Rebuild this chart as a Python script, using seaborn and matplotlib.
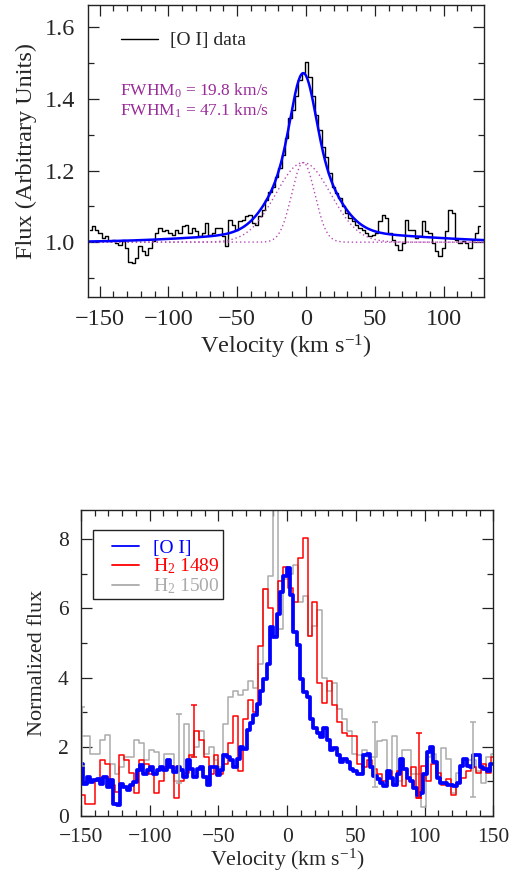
import numpy as np
import pandas as pd
import matplotlib
matplotlib.use("Agg")
import matplotlib.pyplot as plt
from matplotlib.ticker import MultipleLocator, FormatStrFormatter
from matplotlib.patches import Rectangle
import seaborn as sns

# ---------------- data: top panel ([O I] spectrum and 2-Gaussian fit) ----------------
oi_top_v = np.linspace(-156.9, 126.4, 118)
oi_top_flux = [
    1.034, 1.044, 1.034, 1.025, 1.011, 1.016, 1.002, 1.007, 0.997, 0.993,
    1.007, 0.983, 0.946, 0.941, 0.955, 0.988, 0.974, 0.965, 0.983, 1.002,
    1.025, 1.039, 1.030, 1.034, 1.025, 1.020, 1.034, 1.025, 1.044, 1.048,
    1.025, 1.039, 1.030, 1.016, 1.025, 1.053, 1.020, 1.025, 1.039, 1.039,
    1.016, 0.988, 1.062, 1.048, 1.034, 1.058, 1.062, 1.072, 1.076, 1.053,
    1.048, 1.072, 1.090, 1.118, 1.141, 1.155, 1.183, 1.207, 1.244, 1.290,
    1.346, 1.369, 1.407, 1.453, 1.472, 1.504, 1.462, 1.407, 1.355, 1.313,
    1.267, 1.239, 1.193, 1.155, 1.137, 1.123, 1.100, 1.081, 1.067, 1.058,
    1.048, 1.039, 1.034, 1.025, 1.016, 1.020, 1.025, 1.058, 1.076, 1.067,
    1.025, 1.007, 0.993, 0.979, 0.997, 1.062, 1.034, 1.034, 1.011, 1.016,
    1.058, 1.030, 1.025, 0.997, 0.974, 0.960, 0.983, 1.030, 1.090, 1.081,
    1.007, 0.997, 1.002, 0.997, 0.983, 1.007, 1.025, 1.044,
]
fit_center = -2.0
fwhm_narrow = 19.8
fwhm_broad = 47.1
amp_narrow = 0.222
amp_broad = 0.222
wing_amp = 0.028
wing_sigma = 70.0
wing_center = 5.0
continuum = 1.0
fwhm_labels = [r"FWHM$_0$ = 19.8 km/s", r"FWHM$_1$ = 47.1 km/s"]

# ---------------- data: bottom panel ----------------
oi_bot_v = np.linspace(-149.5, 148.8, 124)
oi_bot_flux = [
    1.51, 0.93, 1.12, 0.98, 1.02, 1.07, 0.93, 1.12, 0.83, 1.02,
    0.35, 0.30, 0.93, 0.83, 0.73, 0.88, 0.98, 1.31, 1.46, 1.22,
    1.31, 1.41, 1.22, 1.31, 1.41, 1.31, 1.60, 1.41, 1.27, 1.41,
    1.31, 1.12, 1.60, 1.36, 1.12, 1.36, 1.41, 1.12, 0.88, 1.41,
    1.41, 1.17, 1.31, 1.75, 1.70, 1.60, 1.41, 1.65, 1.99, 1.94,
    2.47, 2.67, 2.91, 3.24, 3.60, 3.95, 4.40, 5.47, 5.18, 5.85,
    6.48, 6.95, 7.16, 6.40, 5.32, 4.94, 3.97, 3.58, 3.45, 2.80,
    2.55, 2.40, 2.28, 2.55, 2.20, 1.90, 1.95, 1.75, 1.55, 1.65,
    1.55, 1.35, 1.30, 1.20, 1.20, 1.75, 1.80, 1.40, 1.15, 1.05,
    0.95, 0.85, 1.30, 1.10, 0.90, 1.20, 1.65, 1.35, 1.10, 1.00,
    0.80, 0.60, 0.65, 1.20, 1.85, 2.00, 1.55, 1.10, 0.95, 0.95,
    0.90, 0.90, 0.85, 0.95, 1.45, 1.65, 1.45, 1.40, 1.75, 1.75,
    1.40, 1.35, 1.30, 1.50,
]
h2_v = np.linspace(-149.0, 149.8, 84)
h2_1489 = [
    0.6, 0.35, 0.35, 1.0, 1.6, 1.5, 0.9, 0.7, 1.75, 1.6,
    1.25, 0.65, 1.6, 1.5, 1.2, 0.65, 1.0, 1.4, 1.45, 0.5,
    1.0, 1.25, 1.75, 2.45, 2.2, 1.7, 1.2, 1.75, 1.2, 1.5,
    2.1, 2.9, 1.3, 2.8, 3.35, 3.0, 4.9, 6.55, 6.0, 5.2,
    6.8, 7.2, 6.6, 6.2, 7.45, 8.05, 5.2, 6.2, 3.85, 3.25,
    3.9, 3.2, 2.7, 2.4, 2.3, 2.3, 1.5, 1.4, 1.6, 1.35,
    1.2, 1.0, 1.3, 0.9, 1.3, 0.85, 1.1, 1.4, 0.5, 1.45,
    1.0, 1.5, 1.25, 0.9, 1.05, 0.6, 0.95, 1.1, 1.3, 1.4,
    1.25, 1.5, 1.25, 1.7,
]
h2_1500 = [
    2.3, 2.3, 1.8, 1.8, 2.2, 2.35, 1.5, 1.2, 1.4, 1.7,
    1.7, 2.2, 2.1, 1.6, 1.9, 1.85, 1.4, 1.8, 1.8, 1.0,
    1.35, 2.65, 1.7, 2.0, 2.45, 1.8, 2.0, 1.6, 1.4, 2.65,
    3.45, 3.6, 3.5, 3.65, 3.9, 3.7, 4.4, 6.55, 6.95, 10.5,
    5.4, 6.85, 7.0, 7.25, 6.2, 6.35, 5.2, 5.5, 5.95, 4.0,
    3.6, 3.85, 3.1, 2.8, 2.45, 1.8, 1.75, 1.9, 1.7, 1.7,
    2.15, 2.2, 1.2, 2.3, 1.0, 1.9, 1.9, 1.2, 1.2, 0.25,
    1.7, 1.8, 1.15, 1.95, 1.65, 0.65, 1.25, 1.45, 1.6, 1.6,
    1.3, 0.95, 1.7, 1.8,
]
err_1489_v = [-67.5, 96.0]
err_1489_y = [2.45, 1.44]
err_1489_e = [0.75, 0.94]
err_1500_v = [-149.3, -79.0, 64.0, 135.5]
err_1500_y = [2.3, 1.95, 1.77, 1.62]
err_1500_e = [0.85, 1.0, 0.94, 1.08]
legend_labels = ["[O I]", r"H$_2$ 1489", r"H$_2$ 1500"]

# ---------------- style ----------------
sns.set_theme(style="ticks")
plt.rcParams["font.family"] = ["Liberation Serif", "DejaVu Serif"]
plt.rcParams["mathtext.fontset"] = "custom"
plt.rcParams["mathtext.rm"] = "Liberation Serif"
plt.rcParams["mathtext.it"] = "Liberation Serif:italic"
plt.rcParams["axes.unicode_minus"] = True

PURPLE_TXT = "#9a2c9a"
PURPLE_DOT = "#b64cb6"
GRAY = "#ababab"
BLUE = "#0000ff"
RED = "#ff0000"

fig = plt.figure(figsize=(5.25, 8.74), dpi=100)
ax1 = fig.add_axes([0.1676, 0.6602, 0.9219 - 0.1676, 0.9943 - 0.6602])
ax2 = fig.add_axes([0.1543, 0.0667, 0.9397 - 0.1543, 0.4165 - 0.0667])


def style_axes(ax, fs, xmin, ymin):
    for s in ax.spines.values():
        s.set_linewidth(1.0)
        s.set_color("#222222")
        s.set_visible(True)
    ax.tick_params(which="both", direction="in", top=True, right=True,
                   labelsize=fs, width=0.9, color="#222222", pad=9)
    ax.tick_params(which="major", length=8)
    ax.tick_params(which="minor", length=4)
    ax.xaxis.set_minor_locator(MultipleLocator(xmin))
    ax.yaxis.set_minor_locator(MultipleLocator(ymin))


# ---------------- top panel ----------------
df_top = pd.DataFrame({"v": oi_top_v, "flux": oi_top_flux})
sns.lineplot(data=df_top, x="v", y="flux", ax=ax1, color="black", lw=1.0,
             drawstyle="steps-mid", estimator=None, label="[O I] data")

v_model = np.linspace(-160, 130, 600)
s_n = fwhm_narrow / (2 * np.sqrt(2 * np.log(2)))
s_b = fwhm_broad / (2 * np.sqrt(2 * np.log(2)))
g_n = amp_narrow * np.exp(-0.5 * ((v_model - fit_center) / s_n) ** 2)
g_b = amp_broad * np.exp(-0.5 * ((v_model - fit_center) / s_b) ** 2)
g_w = wing_amp * np.exp(-0.5 * ((v_model - wing_center) / wing_sigma) ** 2)
df_model = pd.DataFrame({"v": v_model, "narrow": continuum + g_n,
                         "broad": continuum + g_b,
                         "total": continuum + g_n + g_b + g_w})
sns.lineplot(data=df_model, x="v", y="narrow", ax=ax1, color=PURPLE_DOT,
             lw=1.0, ls=(0, (1, 2)), estimator=None)
sns.lineplot(data=df_model, x="v", y="broad", ax=ax1, color=PURPLE_DOT,
             lw=1.0, ls=(0, (1, 2)), estimator=None)
sns.lineplot(data=df_model, x="v", y="total", ax=ax1, color=BLUE,
             lw=1.8, estimator=None)

ax1.set_xlim(-158.4, 129.3)
ax1.set_ylim(0.847, 1.662)
ax1.xaxis.set_major_locator(MultipleLocator(50))
ax1.yaxis.set_major_locator(MultipleLocator(0.2))
ax1.yaxis.set_major_formatter(FormatStrFormatter("%.1f"))
style_axes(ax1, 17.5, 10, 0.1)
ax1.set_xlabel(r"Velocity (km s$^{-1}$)", fontsize=17.5, labelpad=2)
ax1.set_ylabel("Flux (Arbitrary Units)", fontsize=17.5, labelpad=6)
leg1 = ax1.legend(loc="upper left", frameon=False, fontsize=14,
                  handlelength=1.9, handletextpad=0.65,
                  bbox_to_anchor=(0.063, 0.935), borderaxespad=0)
for ln in leg1.get_lines():
    ln.set_linewidth(1.0)
ax1.text(0.0808, 0.7065, fwhm_labels[0], transform=ax1.transAxes,
         fontsize=12.5, color=PURPLE_TXT, va="center", ha="left")
ax1.text(0.0808, 0.638, fwhm_labels[1], transform=ax1.transAxes,
         fontsize=12.5, color=PURPLE_TXT, va="center", ha="left")

# ---------------- bottom panel ----------------
df_oi = pd.DataFrame({"v": oi_bot_v, "flux": oi_bot_flux})
df_h2 = pd.DataFrame({"v": h2_v, "h1489": h2_1489, "h1500": h2_1500})
sns.lineplot(data=df_h2, x="v", y="h1500", ax=ax2, color=GRAY, lw=1.1,
             drawstyle="steps-mid", estimator=None, label=legend_labels[2])
sns.lineplot(data=df_h2, x="v", y="h1489", ax=ax2, color=RED, lw=1.1,
             drawstyle="steps-mid", estimator=None, label=legend_labels[1])
sns.lineplot(data=df_oi, x="v", y="flux", ax=ax2, color=BLUE, lw=2.7,
             drawstyle="steps-mid", estimator=None, label=legend_labels[0])
ax2.errorbar(err_1500_v, err_1500_y, yerr=err_1500_e, fmt="none",
             ecolor=GRAY, elinewidth=1.1, capsize=2.5, capthick=1.1)
ax2.errorbar(err_1489_v, err_1489_y, yerr=err_1489_e, fmt="none",
             ecolor=RED, elinewidth=1.1, capsize=2.5, capthick=1.1)

ax2.set_xlim(-150, 150)
ax2.set_ylim(0, 8.85)
ax2.xaxis.set_major_locator(MultipleLocator(50))
ax2.yaxis.set_major_locator(MultipleLocator(2))
style_axes(ax2, 15.5, 10, 1)
ax2.set_xlabel(r"Velocity (km s$^{-1}$)", fontsize=15.7, labelpad=0)
ax2.set_ylabel("Normalized flux", fontsize=16, labelpad=8)

handles, labels = ax2.get_legend_handles_labels()
order = [labels.index(l) for l in legend_labels]
leg2 = ax2.legend([handles[i] for i in order], [labels[i] for i in order],
                  loc="upper left", bbox_to_anchor=(0.0752, 0.905),
                  borderaxespad=0, borderpad=0, fontsize=14, handlelength=1.4,
                  handletextpad=0.72, labelspacing=0.0, frameon=False,
                  labelcolor=[BLUE, RED, GRAY])
for ln in leg2.get_lines():
    ln.set_linewidth(1.3)
ax2.add_patch(Rectangle((0.0298, 0.7089), 0.3437 - 0.0298, 0.9346 - 0.7089,
                        transform=ax2.transAxes, fill=True, facecolor="white",
                        edgecolor="#222222", lw=1.0, zorder=4))
leg2.set_zorder(5)

fig.savefig("out.png", dpi=100)
